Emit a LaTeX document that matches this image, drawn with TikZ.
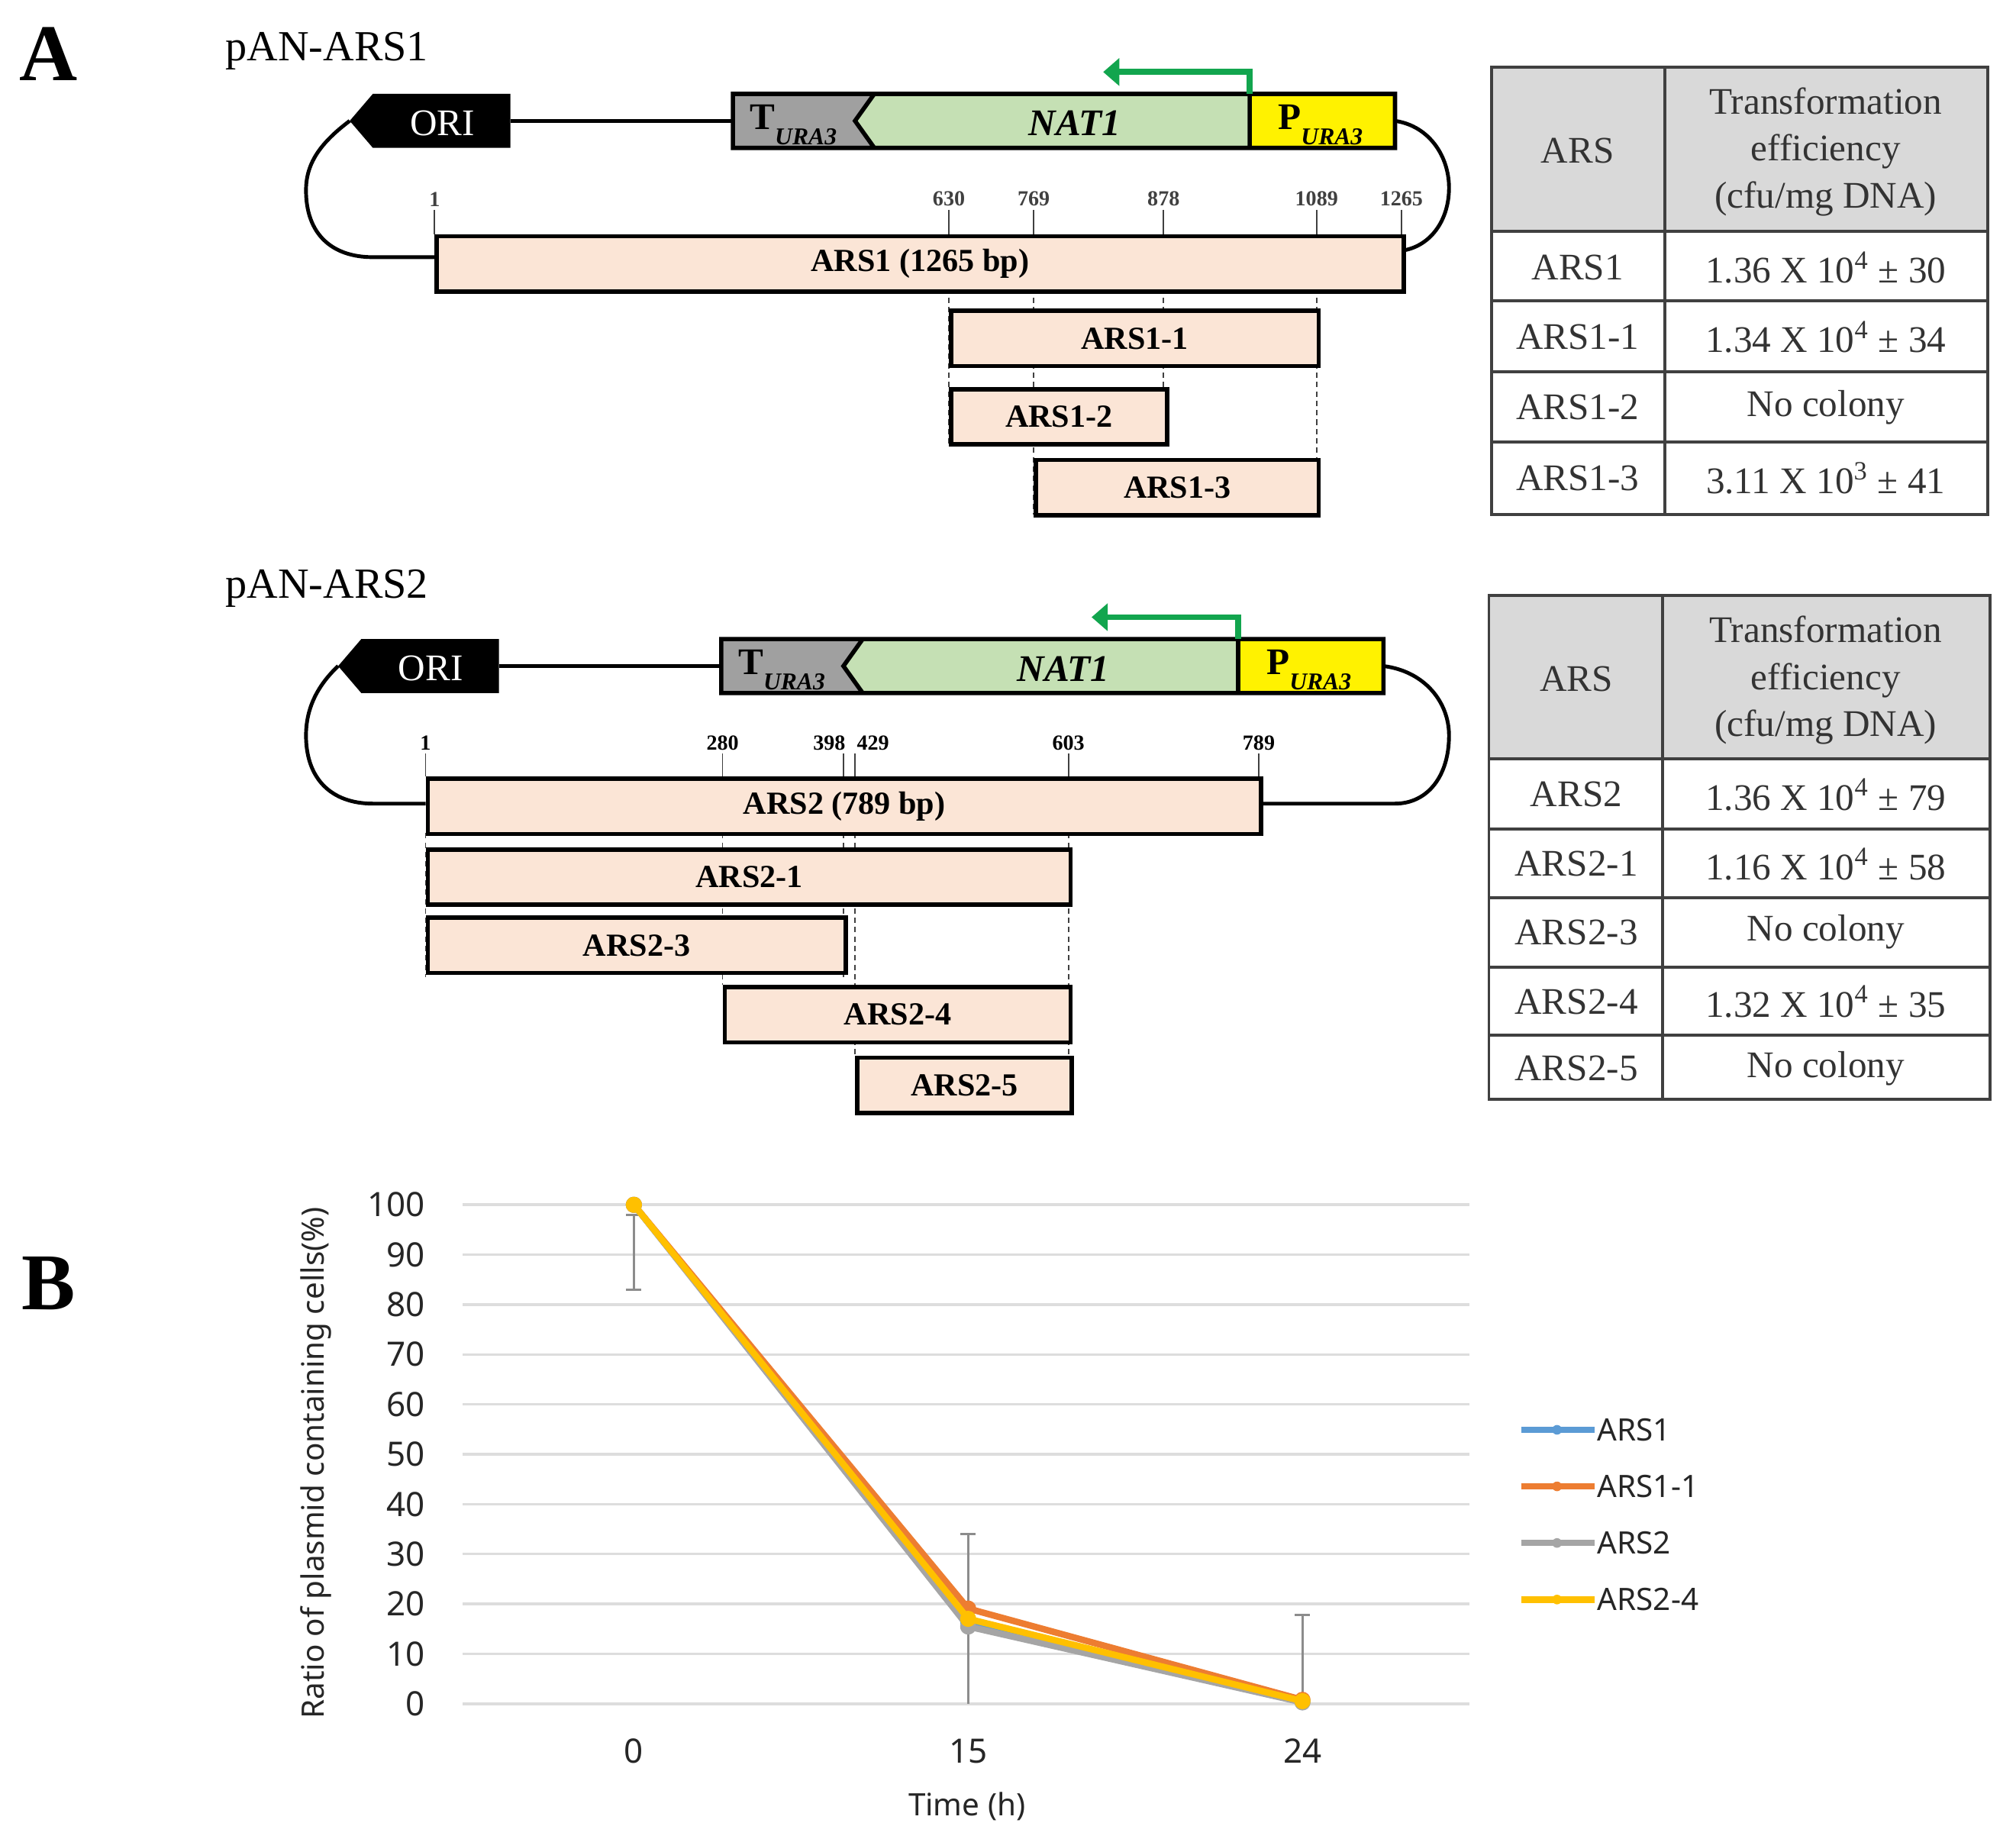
\documentclass[tikz,border=0pt]{standalone}
\usepackage{fontspec}
\setmainfont{Liberation Serif}
\newfontfamily\chartfont{Noto Sans}
\usetikzlibrary{arrows.meta,positioning}
\definecolor{fragfill}{HTML}{FBE5D6}
\definecolor{natgreen}{HTML}{C5E0B4}
\definecolor{turagray}{HTML}{A0A0A0}
\definecolor{arrowgreen}{HTML}{12A54E}
\definecolor{hdrgray}{HTML}{D9D9D9}
\definecolor{gridgray}{HTML}{DDDDDD}
\definecolor{sblue}{HTML}{5B9BD5}
\definecolor{sorange}{HTML}{ED7D31}
\definecolor{sgray}{HTML}{A5A5A5}
\definecolor{sgold}{HTML}{FFC000}
\def\pxu{0.016843cm}
\tikzset{panel/.style={font=\fontsize{30}{30}\selectfont\bfseries,inner sep=0pt},
         plasmid/.style={font=\fontsize{16}{16}\selectfont,inner sep=0pt,anchor=base west},
         frag/.style={draw=black,line width=1.6pt,fill=fragfill,inner sep=0pt,anchor=north west,
                      minimum height=43*\pxu,font=\fontsize{12}{12}\selectfont\bfseries},
         pos label/.style={font=\fontsize{8}{8}\selectfont\bfseries,inner sep=1pt,anchor=south},
         tick line/.style={line width=0.5pt,black!75},
         guide/.style={line width=0.5pt,black!75,dash pattern=on 2pt off 1.5pt},
         loop line/.style={line width=1.4pt},
         ori label/.style={text=white,font=\fontsize{14}{14}\selectfont,inner sep=0pt},
         gene label/.style={font=\fontsize{14}{14}\selectfont\bfseries,inner sep=0pt},
         promoter/.style={arrowgreen,line width=2.2pt,-{Triangle[width=10pt,length=6pt]}},
         table rule/.style={line width=1.1pt,black!75},
         cell/.style={font=\fontsize{14}{17.5}\selectfont,text=black!80,align=center,inner sep=0pt},
         gridline/.style={gridgray,line width=1pt},
         ytick/.style={font=\chartfont\fontsize{12.5}{12.5}\selectfont,text=black!85,anchor=east,inner sep=0pt},
         xtick/.style={font=\chartfont\fontsize{12.5}{12.5}\selectfont,text=black!85,inner sep=0pt},
         axtitle/.style={font=\chartfont\fontsize{11.5}{11.5}\selectfont,text=black!85,inner sep=0pt},
         series/.style={line width=2.4pt,line join=round},
         errbar/.style={black!45,line width=0.8pt},
         legtext/.style={font=\chartfont\fontsize{11.5}{11.5}\selectfont,text=black!85,anchor=west,inner sep=1pt},
}
\begin{document}
\begin{tikzpicture}[x=0.016843cm,y=-0.016843cm]
\useasboundingbox (0,0) rectangle (1568,1430);
% \draw[help lines,step=100] (0,0) grid (1568,1430);
\node[panel] (lblA) at (38,42) {A};
\node[panel] (lblB) at (38,998) {B};
\node[plasmid] (p1) at (175,47) {pAN-ARS1};
\node[plasmid] (p2) at (175,465) {pAN-ARS2};
% plasmid maps: ORI + cassette
\foreach \dx/\dy/\nm in {0/0/1,-9/424/2}{
  \begin{scope}[shift={(\dx,\dy)}]
    \fill[black] (290,73) -- (397,73) -- (397,115) -- (290,115) -- (272,94) -- cycle;
    \node[ori label] (ori\nm) at (344,96) {ORI};
    \draw[loop line] (397,94) -- (570,94);
    \fill[turagray] (570,73) -- (680,73) -- (665,94) -- (680,115) -- (570,115) -- cycle;
    \fill[natgreen] (680,73) -- (972,73) -- (972,115) -- (680,115) -- (665,94) -- cycle;
    \fill[yellow] (972,73) rectangle (1085,115);
    \draw[line width=1.6pt] (570,73) rectangle (1085,115) (680,73) -- (665,94) -- (680,115) (972,73) -- (972,115);
    \node[gene label] (tura\nm) at (617,97) {T\raisebox{-0.4em}{\fontsize{9}{9}\selectfont\itshape URA3}};
    \node[gene label,font=\fontsize{14}{14}\selectfont\bfseries\itshape] (nat\nm) at (836,96) {NAT1};
    \node[gene label] (pura\nm) at (1027,97) {P\raisebox{-0.4em}{\fontsize{9}{9}\selectfont\itshape URA3}};
    \draw[promoter] (972,73) -- (972,56) -- (858,56);
  \end{scope}
}
% backbone loops
\draw[loop line] (272,94) .. controls (248,112) and (238,128) .. (238,148) .. controls (238,182) and (258,200) .. (290,200) -- (338,200);
\draw[loop line] (1085,94) .. controls (1112,98) and (1127,122) .. (1127,146) .. controls (1127,172) and (1112,192) .. (1090,195);
\draw[loop line] (263,518) .. controls (246,534) and (238,552) .. (238,572) .. controls (238,606) and (258,625) .. (290,625) -- (331,625);
\draw[loop line] (1076,518) .. controls (1108,522) and (1127,546) .. (1127,572) .. controls (1127,604) and (1110,625) .. (1085,625) -- (979,625);
% positions
\foreach \x/\lab in {338/1,738/630,804/769,905/878,1024/1089,1090/1265}
  \draw[tick line] (\x,163) -- (\x,182) node[pos label,at start] (a\lab) {\lab};
\foreach \x/\lx/\lab in {331/331/1,562/562/280,656/645/398,665/679/429,831/831/603,979/979/789}{
  \draw[tick line] (\x,586) -- (\x,604);
  \node[pos label] (b\lab) at (\lx,586) {\lab};
}
\draw[guide] (738,224) -- (738,346) (804,224) -- (804,400) (905,224) -- (905,346) (1024,224) -- (1024,400);
\draw[guide] (331,648) -- (331,760) (562,648) -- (562,766) (656,648) -- (656,760) (665,648) -- (665,821) (831,648) -- (831,866);
% fragments
\foreach \nm/\xa/\xb/\ya/\txt in {ars1/338/1090/182/ARS1 (1265 bp),ars11/738/1024/240/ARS1-1,ars12/738/906/301/ARS1-2,ars13/804/1024/356/ARS1-3,
    ars2/331/979/604/ARS2 (789 bp),ars21/331/831/659/ARS2-1,ars23/331/656/712/ARS2-3,ars24/562/831/766/ARS2-4,ars25/665/832/821/ARS2-5}
  \node[frag,minimum width={(\xb-\xa)*\pxu}] (\nm) at (\xa,\ya) {\txt};
% tables
\fill[hdrgray] (1160,52) rectangle (1546,180);
\draw[table rule] (1160,52) rectangle (1546,400) (1295,52) -- (1295,400);
\foreach \y in {180,234,289,344} \draw[table rule] (1160,\y) -- (1546,\y);
\node[cell] (ta0) at (1227,117) {ARS};
\node[cell] (tb0) at (1420,118) {Transformation\\efficiency\\(cfu/mg DNA)};
\foreach \y/\a/\b [count=\i] in {208/ARS1/1.36 X 10\textsuperscript{4} ± 30,262/ARS1-1/1.34 X 10\textsuperscript{4} ± 34,
    317/ARS1-2/No colony,372/ARS1-3/3.11 X 10\textsuperscript{3} ± 41}{
  \node[cell] (ta\i) at (1227,\y) {\a};
  \node[cell] (tb\i) at (1420,\y) {\b};
}
\fill[hdrgray] (1158,463) rectangle (1548,590);
\draw[table rule] (1158,463) rectangle (1548,855) (1293,463) -- (1293,855);
\foreach \y in {590,645,698,752,805} \draw[table rule] (1158,\y) -- (1548,\y);
\node[cell] (tc0) at (1226,528) {ARS};
\node[cell] (td0) at (1420,529) {Transformation\\efficiency\\(cfu/mg DNA)};
\foreach \y/\a/\b [count=\i] in {618/ARS2/1.36 X 10\textsuperscript{4} ± 79,672/ARS2-1/1.16 X 10\textsuperscript{4} ± 58,
    725/ARS2-3/No colony,779/ARS2-4/1.32 X 10\textsuperscript{4} ± 35,831/ARS2-5/No colony}{
  \node[cell] (tc\i) at (1226,\y) {\a};
  \node[cell] (td\i) at (1420,\y) {\b};
}
% chart
\foreach \v in {0,10,...,100}{
  \draw[gridline] (360,{1325-3.88*\v}) -- (1143,{1325-3.88*\v});
  \node[ytick] (yt\v) at (331,{1325-3.88*\v}) {\v};
}
\foreach \x/\lab in {493/0,753/15,1013/24} \node[xtick] (xt\lab) at (\x,1362) {\lab};
\node[axtitle] (xtitle) at (752,1405) {Time (h)};
\node[axtitle,rotate=90] (ytitle) at (246,1138) {Ratio of plasmid containing cells(\%)};
\draw[errbar] (493,945) -- (493,1003) (487,945) -- (499,945) (487,1003) -- (499,1003);
\draw[errbar] (753,1193) -- (753,1325) (747,1193) -- (759,1193);
\draw[errbar] (1013,1256) -- (1013,1323) (1007,1256) -- (1019,1256);
\draw[series,sblue] plot[mark=*,mark size=1.8pt] coordinates {(493,937) (753,1261) (1013,1323)};
\draw[series,sorange] plot[mark=*,mark size=1.8pt] coordinates {(493,937) (753,1251) (1013,1322)};
\draw[series,sgray] plot[mark=*,mark size=1.8pt] coordinates {(493,937) (753,1265) (1013,1324)};
\draw[series,sgold] plot[mark=*,mark size=1.8pt] coordinates {(493,937) (753,1259) (1013,1323)};
\foreach \y/\c/\t [count=\i] in {1112/sblue/ARS1,1156/sorange/ARS1-1,1200/sgray/ARS2,1244/sgold/ARS2-4}{
  \draw[series,\c] (1183,\y) -- (1240,\y);
  \fill[\c] (1211,\y) circle (1.8pt);
  \node[legtext] (lg\i) at (1240,\y) {\t};
}
\end{tikzpicture}
\end{document}
